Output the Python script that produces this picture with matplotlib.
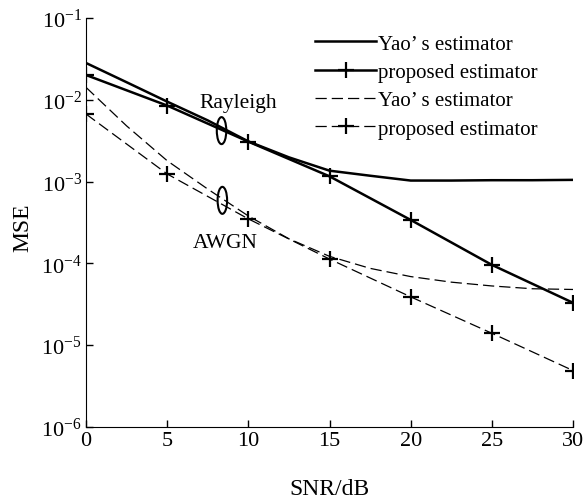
import matplotlib
matplotlib.use('Agg')
import matplotlib.pyplot as plt
from matplotlib.patches import Ellipse
from matplotlib.transforms import ScaledTranslation

plt.rcParams['font.family'] = ['Liberation Serif', 'DejaVu Serif']
plt.rcParams['mathtext.fontset'] = 'stix'
plt.rcParams['font.size'] = 15

# SNR points of the markers
snr = [0, 5, 10, 15, 20, 25, 30]
# Yao curves read at a finer SNR step (they bend between the markers)
snr_fine = [0, 2.5, 5, 7.5, 10, 12.5, 15, 17.5, 20, 22.5, 25, 27.5, 30]

# Rayleigh channel
yao_rayleigh = [0.0282, 0.0164, 0.0095, 0.0056, 0.0031, 0.00198, 0.00136,
                0.00118, 0.00103, 0.00103, 0.00104, 0.00104, 0.00105]
prop_rayleigh = [0.0201, 0.0085, 0.00308, 0.00116, 0.00034, 9.6e-5, 3.3e-5]

# AWGN channel
yao_awgn = [0.0142, 0.0048, 0.0018, 0.00081, 0.00038, 0.0002, 0.000122,
            8.7e-5, 6.9e-5, 5.9e-5, 5.3e-5, 4.9e-5, 4.8e-5]
prop_awgn = [0.0067, 0.00124, 0.00035, 0.000113, 3.9e-5, 1.4e-5, 4.9e-6]

labels = ['Yao’ s estimator', 'proposed estimator', 'Yao’ s estimator', 'proposed estimator']

fig = plt.figure(figsize=(5.88, 5.02), dpi=100)
ax = fig.add_axes([86 / 588, 1 - 428 / 502, (573 - 86) / 588, (428 - 19) / 502])

ax.plot(snr_fine, yao_rayleigh, color='black', lw=1.8, label=labels[0])
ax.plot(snr, prop_rayleigh, color='black', lw=1.8, marker='+', ms=12, mew=1.6, label=labels[1])
ax.plot(snr_fine, yao_awgn, color='black', lw=0.9, dashes=(9, 4), label=labels[2])
ax.plot(snr, prop_awgn, color='black', lw=0.9, dashes=(9, 4), marker='+', ms=12, mew=1.6, label=labels[3])

ax.set_yscale('log')
ax.set_xlim(0, 30)
ax.set_ylim(1e-6, 1e-1)
ax.set_xticks([0, 5, 10, 15, 20, 25, 30])
ax.set_yticks([1e-6, 1e-5, 1e-4, 1e-3, 1e-2, 1e-1])
ax.minorticks_off()
ax.tick_params(direction='in', length=5, width=1, labelsize=16, pad=3)
ax.spines['top'].set_visible(False)
ax.spines['right'].set_visible(False)
ax.set_xlabel('SNR/dB', fontsize=17)
ax.set_ylabel('MSE', fontsize=17)
ax.xaxis.set_label_coords(0.499, -0.124)
ax.yaxis.set_label_coords(-0.108, 0.489)

# channel annotations: ellipses drawn in inches around a data point
for (ex, ey) in [(8.35, 0.0042), (8.4, 0.00059)]:
    tr = fig.dpi_scale_trans + ScaledTranslation(ex, ey, ax.transData)
    ax.add_patch(Ellipse((0, 0), width=0.095, height=0.27, transform=tr,
                         fill=False, lw=1.5, color='black'))
ax.text(9.35, 0.0092, 'Rayleigh', ha='center', va='center', fontsize=15.5)
ax.text(8.6, 0.00018, 'AWGN', ha='center', va='center', fontsize=15.5)

leg = ax.legend(loc='upper left', bbox_to_anchor=(315 / 588, 1 - 35 / 502), bbox_transform=fig.transFigure,
                frameon=False, handlelength=2.95, handletextpad=0.05, labelspacing=0.42, borderaxespad=0,
                borderpad=0, fontsize=15)

fig.savefig('out.png', dpi=100)
